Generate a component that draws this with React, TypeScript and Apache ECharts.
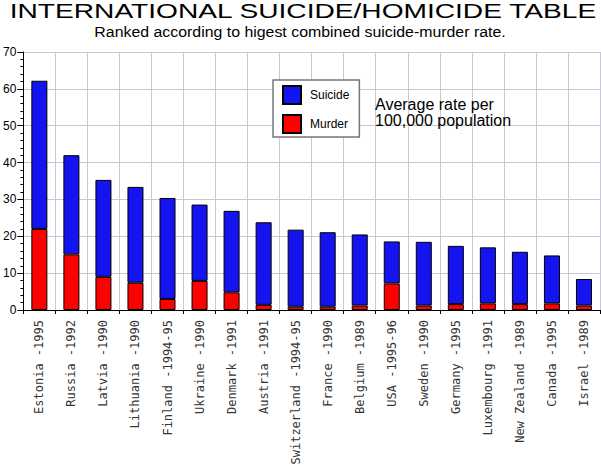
import React, { useEffect, useRef } from "react";
import * as echarts from "echarts";

const categories = [
  "Estonia -1995", "Russia -1992", "Latvia -1990", "Lithuania -1990", "Finland -1994-95",
  "Ukraine -1990", "Denmark -1991", "Austria -1991", "Switzerland -1994-95", "France -1990",
  "Belgium -1989", "USA -1995-96", "Sweden -1990", "Germany -1995", "Luxembourg -1991",
  "New Zealand -1989", "Canada -1995", "Israel -1989",
];
const murder = [22.0, 15.1, 9.0, 7.4, 3.0, 7.9, 4.8, 1.4, 0.9, 0.9, 1.2, 7.2, 1.2, 1.6, 1.8, 1.6, 1.8, 1.2];
const suicide = [40.2, 26.9, 26.3, 26.0, 27.4, 20.7, 22.1, 22.4, 20.9, 20.2, 19.3, 11.4, 17.3, 15.8, 15.2, 14.2, 13.0, 7.2];
const yTicks = { min: 0, max: 70, interval: 10 };

export default function App() {
  const ref = useRef<HTMLDivElement>(null);
  useEffect(() => {
    if (!ref.current) return;
    const chart = echarts.init(ref.current, null, { renderer: "svg" });
    const gridLine = { show: true, lineStyle: { color: "#c8c8d4", width: 1 } };
    chart.setOption({
      animation: false,
      backgroundColor: "#fff",
      legend: {
        data: ["Suicide", "Murder"],
        orient: "vertical",
        left: 273,
        top: 80,
        icon: "rect",
        itemWidth: 18,
        itemHeight: 18,
        itemGap: 9,
        padding: [5, 10, 3, 9],
        borderColor: "#777",
        borderWidth: 1.5,
        backgroundColor: "#fff",
        textStyle: { fontFamily: "Liberation Sans", fontSize: 12, color: "#000", padding: [0, 0, 0, 4] },
      },
      graphic: [
        {
          type: "text",
          x: 303,
          y: 11,
          scaleX: 1.34,
          style: {
            text: "INTERNATIONAL SUICIDE/HOMICIDE TABLE",
            fontFamily: "Liberation Sans",
            fontSize: 21,
            fill: "#000",
            align: "center",
            verticalAlign: "middle",
          },
        },
        {
          type: "text",
          x: 300,
          y: 32,
          scaleX: 1.06,
          style: {
            text: "Ranked according to higest combined suicide-murder rate.",
            fontFamily: "Liberation Sans",
            fontSize: 15,
            fill: "#000",
            align: "center",
            verticalAlign: "middle",
          },
        },
        {
          type: "text",
          left: 375,
          top: 96,
          style: {
            text: "Average rate per\n100,000 population",
            fontFamily: "Liberation Sans",
            fontSize: 16,
            lineHeight: 16,
            fill: "#000",
          },
          z: 10,
        },
      ],
      grid: { left: 20, right: 1, top: 52, bottom: 158 },
      xAxis: {
        type: "category",
        data: categories,
        axisLine: { lineStyle: { color: "#000", width: 1 } },
        axisTick: { show: true, length: 4, lineStyle: { color: "#000" } },
        splitLine: { ...gridLine, interval: 0 },
        axisLabel: {
          interval: 0,
          rotate: 90,
          margin: 10,
          fontFamily: "DejaVu Sans Mono",
          fontSize: 12,
          color: "#333",
        },
      },
      yAxis: {
        type: "value",
        min: yTicks.min,
        max: yTicks.max,
        interval: yTicks.interval,
        axisLine: { show: true, lineStyle: { color: "#000", width: 1 } },
        axisTick: { show: true, length: 6, lineStyle: { color: "#000" } },
        minorTick: { show: true, splitNumber: 5, length: 3, lineStyle: { color: "#000" } },
        splitLine: gridLine,
        axisLabel: { fontFamily: "Liberation Sans", fontSize: 12, color: "#000", margin: 7 },
      },
      series: [
        {
          name: "Murder",
          type: "bar",
          stack: "total",
          data: murder,
          barWidth: "50%",
          itemStyle: { color: "#ff0000", borderColor: "#000", borderWidth: 1 },
        },
        {
          name: "Suicide",
          type: "bar",
          stack: "total",
          data: suicide,
          barWidth: "50%",
          itemStyle: { color: "#1414f0", borderColor: "#000", borderWidth: 1 },
        },
      ],
    });
    return () => chart.dispose();
  }, []);
  return <div ref={ref} style={{ position: "fixed", left: 0, top: 0, width: 601, height: 468 }} />;
}
